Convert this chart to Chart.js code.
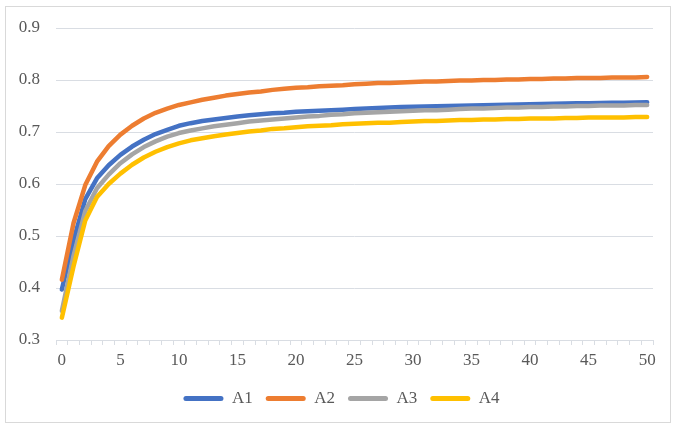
<!DOCTYPE html>
<html>
<head>
<meta charset="utf-8">
<script src="https://cdn.jsdelivr.net/npm/chart.js@4/dist/chart.umd.min.js"></script>
<style>
  html, body { margin: 0; padding: 0; background: #ffffff; }
  #wrap { width: 677px; height: 425px; position: relative; }
</style>
</head>
<body>
<div id="wrap"><canvas id="c" width="677" height="425"></canvas></div>
<script>
// x categories 0..50
const xLabels = [0,1,2,3,4,5,6,7,8,9,10,11,12,13,14,15,16,17,18,19,20,21,22,23,24,25,26,27,28,29,30,31,32,33,34,35,36,37,38,39,40,41,42,43,44,45,46,47,48,49,50];

const seriesNames = ['A1', 'A2', 'A3', 'A4'];
const seriesColors = ['#4472C4', '#ED7D31', '#A5A5A5', '#FFC000'];

const a1 = [0.397,0.492,0.571,0.611,0.636,0.656,0.672,0.685,0.696,0.704,0.712,0.717,0.721,0.724,0.727,0.730,0.732,0.734,0.736,0.737,0.739,0.740,0.741,0.742,0.743,0.744,0.745,0.746,0.747,0.748,0.7485,0.749,0.7495,0.750,0.7505,0.751,0.7515,0.752,0.7525,0.753,0.7535,0.754,0.7544,0.7548,0.7552,0.7555,0.7558,0.7561,0.7564,0.7567,0.757];
const a2 = [0.416,0.525,0.598,0.643,0.673,0.695,0.712,0.726,0.737,0.745,0.752,0.757,0.762,0.766,0.770,0.773,0.776,0.778,0.781,0.783,0.785,0.786,0.788,0.789,0.790,0.792,0.793,0.794,0.794,0.795,0.796,0.797,0.797,0.798,0.799,0.799,0.800,0.800,0.801,0.801,0.802,0.802,0.803,0.803,0.804,0.804,0.804,0.805,0.805,0.805,0.806];
const a3 = [0.356,0.462,0.548,0.592,0.618,0.640,0.657,0.671,0.682,0.691,0.698,0.703,0.707,0.711,0.714,0.717,0.720,0.722,0.724,0.726,0.728,0.730,0.731,0.733,0.734,0.736,0.737,0.738,0.739,0.740,0.741,0.742,0.742,0.743,0.744,0.745,0.745,0.746,0.747,0.747,0.748,0.748,0.749,0.749,0.750,0.750,0.751,0.751,0.751,0.752,0.752];
const a4 = [0.343,0.442,0.530,0.575,0.600,0.620,0.637,0.651,0.662,0.671,0.678,0.684,0.688,0.692,0.695,0.698,0.701,0.703,0.706,0.707,0.709,0.711,0.712,0.713,0.715,0.716,0.717,0.718,0.718,0.719,0.720,0.721,0.721,0.722,0.723,0.723,0.724,0.724,0.725,0.725,0.726,0.726,0.726,0.727,0.727,0.728,0.728,0.728,0.728,0.729,0.729];

const yTicks = [0.3, 0.4, 0.5, 0.6, 0.7, 0.8, 0.9];

const seriesValues = [a1, a2, a3, a4];
const textColor = '#595959';
const gridColor = '#D9DDE3';
const fontFamily = '"Liberation Serif", "Times New Roman", serif';
const fontSize = 17;

// light frame around the whole chart
const framePlugin = {
  id: 'frame',
  beforeDraw(chart) {
    const ctx = chart.ctx;
    ctx.save();
    ctx.fillStyle = '#ffffff';
    ctx.fillRect(0, 0, chart.width, chart.height);
    ctx.strokeStyle = '#D9D9D9';
    ctx.lineWidth = 1;
    ctx.strokeRect(5.5, 6.5, 665, 416);
    ctx.restore();
  }
};

// centre the legend row under the whole frame rather than the padded box
const legendShift = {
  id: 'legendShift',
  afterLayout(chart) {
    if (chart.legend) {
      chart.legend.left += 11;
      chart.legend.right += 11;
    }
  }
};

const datasets = seriesValues.map((vals, i) => ({
  label: seriesNames[i],
  data: vals,
  borderColor: seriesColors[i],
  backgroundColor: seriesColors[i],
  borderWidth: 4.5,
  borderCapStyle: 'round',
  borderJoinStyle: 'round',
  pointRadius: 0,
  pointHoverRadius: 0,
  tension: 0,
  fill: false,
  order: seriesValues.length - i   // later series painted on top
}));

new Chart(document.getElementById('c'), {
  type: 'line',
  data: { labels: xLabels, datasets },
  plugins: [framePlugin, legendShift],
  options: {
    responsive: false,
    animation: false,
    events: [],
    layout: { padding: { left: 8, right: 24, top: 28, bottom: 8 } },
    plugins: {
      tooltip: { enabled: false },
      legend: {
        position: 'bottom',
        sort: (a, b) => a.datasetIndex - b.datasetIndex,
        labels: {
          boxWidth: 40,
          boxHeight: 5,
          padding: 13,
          color: textColor,
          font: { family: fontFamily, size: fontSize },
          generateLabels(chart) {
            return chart.data.datasets.map((ds, i) => ({
              text: ds.label,
              fillStyle: ds.borderColor,
              strokeStyle: ds.borderColor,
              lineWidth: 0,
              borderRadius: 2.5,
              fontColor: textColor,
              hidden: false,
              datasetIndex: i
            }));
          },
          useBorderRadius: true,
          borderRadius: 2.5
        }
      }
    },
    scales: {
      x: {
        type: 'category',
        offset: true,
        grid: {
          display: true,
          offset: true,
          drawOnChartArea: false,
          drawTicks: true,
          tickLength: 5,
          color: gridColor
        },
        border: { display: true, color: gridColor, width: 1 },
        ticks: {
          autoSkip: false,
          maxRotation: 0,
          minRotation: 0,
          padding: 5,
          color: textColor,
          font: { family: fontFamily, size: fontSize },
          callback(value, index) {
            const v = xLabels[index];
            return v % 5 === 0 ? String(v) : '';
          }
        },
        afterFit(scale) { scale.height = 37; }
      },
      y: {
        min: yTicks[0],
        max: yTicks[yTicks.length - 1],
        afterBuildTicks(scale) { scale.ticks = yTicks.map(v => ({ value: v })); },
        grid: { color: gridColor, drawTicks: false, lineWidth: 1 },
        border: { display: false },
        ticks: {
          padding: 16,
          color: textColor,
          font: { family: fontFamily, size: fontSize },
          callback: (v) => Number(v).toFixed(1)
        },
        afterFit(scale) { scale.width = 48; }
      }
    }
  }
});
</script>
</body>
</html>
